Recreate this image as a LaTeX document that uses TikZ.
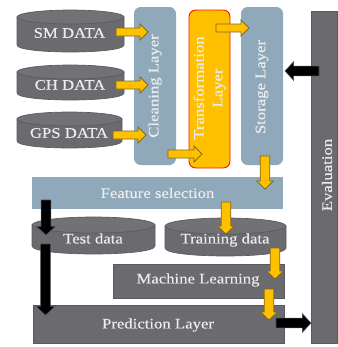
\documentclass[tikz,border=0pt]{standalone}
\usepackage{fontspec}
\setmainfont[FakeStretch=1.15,FakeBold=0.15]{Liberation Serif}
\usetikzlibrary{calc}
\definecolor{darkfill}{HTML}{6B6A6F}
\definecolor{darkedge}{HTML}{5A5A5E}
\definecolor{topfill}{HTML}{727176}
\definecolor{bluefill}{HTML}{8FA9BB}
\definecolor{goldfill}{HTML}{FFC000}
\definecolor{goldedge}{HTML}{7F6A20}
\definecolor{softwhite}{HTML}{EDEDED}
\tikzset{
  lbl/.style={text=softwhite,font=\fontsize{10.9}{14}\selectfont,inner sep=0pt,align=center},
  darkbox/.style={fill=darkfill,draw=darkedge,line width=0.6pt},
  bluebox/.style={fill=bluefill,draw=none},
  cylbody/.style={fill=darkfill,draw=darkedge,line width=0.5pt},
  cyltop/.style={fill=topfill,draw=darkedge,line width=0.5pt},
  goldarrow/.style={fill=goldfill,draw=goldedge,line width=0.6pt,line join=miter},
  blackarrow/.style={fill=black,draw=black!70,line width=0.4pt,line join=miter}
}
% name, x1, y1, x2, y2, style, corner radius
\newcommand{\pxbox}[7]{%
  \draw[#6,rounded corners=#7] (#2,#3) rectangle (#4,#5);
  \coordinate (#1) at ({(#2+#4)/2},{(#3+#5)/2});
}
% x1, y1, x2, y2, ry
\newcommand{\pxcyl}[5]{%
  \draw[cylbody] ({#1},{#2+#5}) -- ({#1},{#4-#5})
    .. controls ({#1},{#4+#5/3}) and ({#3},{#4+#5/3}) .. ({#3},{#4-#5})
    -- ({#3},{#2+#5}) -- cycle;
  \draw[cyltop] ({(#1+#3)/2},{#2+#5}) ellipse[x radius={(#3-#1)/2},y radius=#5];
}
% style, from, to, half shaft, half head, head length (pt)
\newcommand{\blockarrow}[6]{%
  \coordinate (neck) at ($(#3)!#6!(#2)$);
  \draw[#1] ($(#2)!#4!90:(#3)$) -- ($(neck)!#4!90:(#3)$) -- ($(neck)!#5!90:(#3)$) -- (#3)
    -- ($(neck)!#5!-90:(#3)$) -- ($(neck)!#4!-90:(#3)$) -- ($(#2)!#4!-90:(#3)$) -- cycle;
}
\begin{document}
\begin{tikzpicture}[x=0.75pt,y=-0.75pt]
\useasboundingbox (0,0) rectangle (337,347);

% layers
\pxbox{cleanb}{134}{7}{176}{165}{bluebox}{5pt}
\pxbox{transb}{189}{10}{230}{168}{fill=goldfill,draw=red!85!orange,line width=0.7pt}{5pt}
\pxbox{storeb}{241}{7}{283}{165}{bluebox}{5pt}
\pxbox{evalb}{311}{11}{337}{343}{darkbox}{0pt}
\pxbox{featb}{32}{177}{283}{209}{bluebox}{0pt}
\pxbox{mlb}{113}{264}{284}{298}{darkbox}{0pt}
\pxbox{predb}{33}{305}{284}{343}{darkbox}{0pt}

% cylinders
\pxcyl{17}{10}{124}{52}{7}
\pxcyl{17}{65}{124}{100}{7}
\pxcyl{17}{112}{122}{148}{7}
\pxcyl{32}{217}{155}{254}{8}
\pxcyl{165}{218}{286}{256}{8}

% labels
\node[lbl] (smdata) at (69.5,33) {SM DATA};
\node[lbl] (chdata) at (70,85) {CH DATA};
\node[lbl] (gpsdata) at (69,133) {GPS DATA};
\node[lbl,rotate=90] (clean) at (155,86) {Cleaning Layer};
\node[lbl,rotate=90] (trans) at (209.5,88) {Transformation\\Layer};
\node[lbl,rotate=90] (store) at (262,87) {Storage Layer};
\node[lbl,rotate=90] (evalt) at (327,175) {Evaluation};
\node[lbl] (feat) at (157.5,193) {Feature selection};
\node[lbl] (test) at (93,238.5) {Test data};
\node[lbl] (train) at (225,240) {Training data};
\node[lbl] (ml) at (198,280) {Machine Learning};
\node[lbl] (pred) at (158,325) {Prediction Layer};

% connector ends
\coordinate (a1) at (116,32);  \coordinate (b1) at (148,32);
\coordinate (a2) at (116,85);  \coordinate (b2) at (148,85);
\coordinate (a3) at (113,135); \coordinate (b3) at (146,135);
\coordinate (a4) at (168,154); \coordinate (b4) at (202,154);
\coordinate (a5) at (216,28);  \coordinate (b5) at (249,28);
\coordinate (a6) at (265,156); \coordinate (b6) at (265,189);
\coordinate (a7) at (226,202); \coordinate (b7) at (226,234);
\coordinate (a8) at (275,248); \coordinate (b8) at (275,279);
\coordinate (a9) at (269,289); \coordinate (b9) at (269,320);
\coordinate (c1) at (319,71);  \coordinate (d1) at (285,71);
\coordinate (c2) at (46,200);  \coordinate (d2) at (46,235);
\coordinate (c3) at (45.5,244);\coordinate (d3) at (45.5,315);
\coordinate (c4) at (276,323); \coordinate (d4) at (311,323);

% arrows
\foreach \i in {1,...,5}{\blockarrow{goldarrow}{a\i}{b\i}{3pt}{6pt}{6pt}}
\foreach \i in {6,...,9}{\blockarrow{goldarrow}{a\i}{b\i}{3.6pt}{6.3pt}{6pt}}
\blockarrow{blackarrow}{c1}{d1}{3.6pt}{7pt}{6.5pt}
\blockarrow{blackarrow}{c2}{d2}{3.6pt}{7pt}{6.5pt}
\blockarrow{blackarrow}{c3}{d3}{3.6pt}{7pt}{6.5pt}
\blockarrow{blackarrow}{c4}{d4}{3.6pt}{7pt}{6.5pt}
\end{tikzpicture}
\end{document}
